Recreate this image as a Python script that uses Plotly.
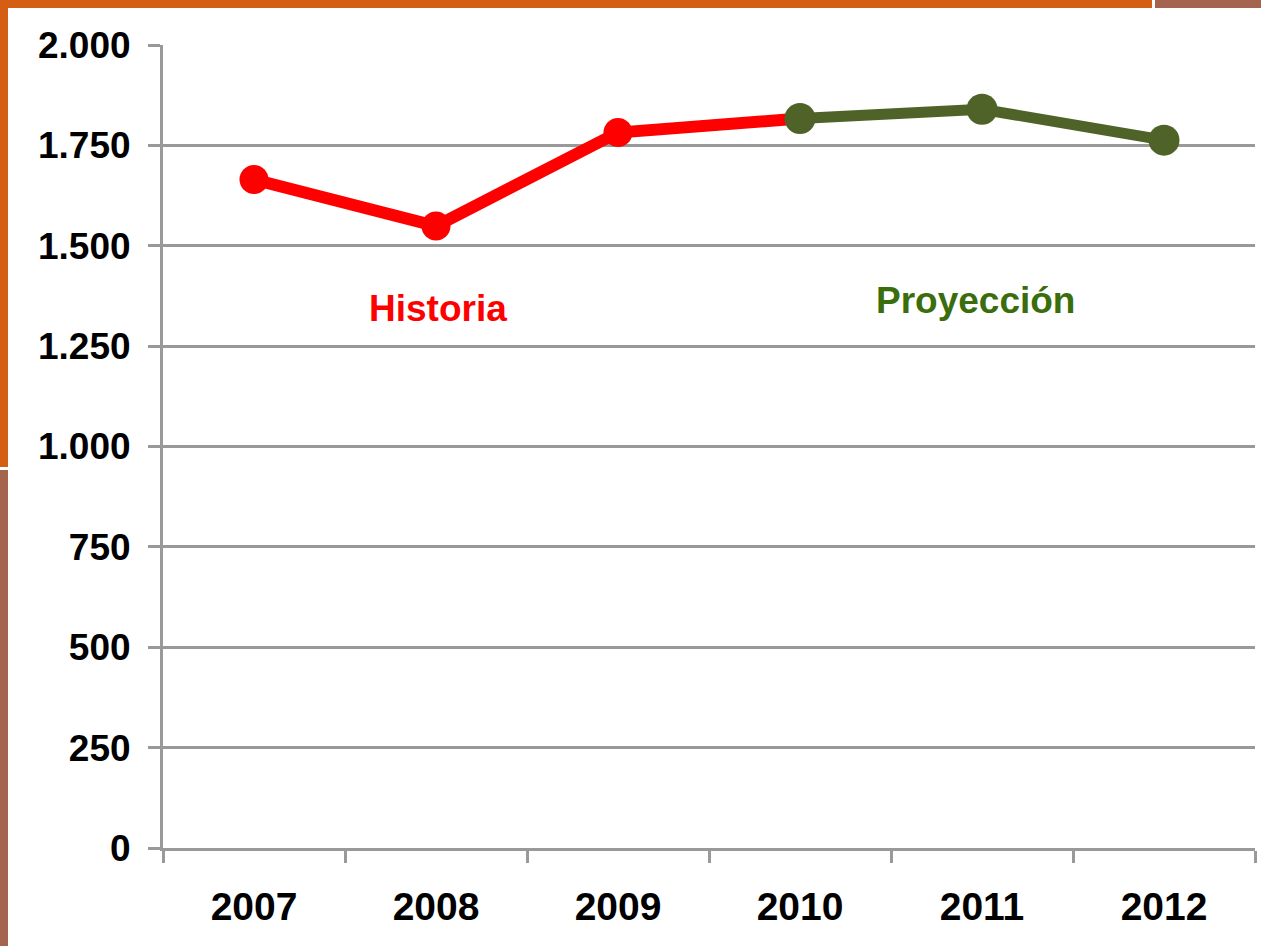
import plotly.graph_objects as go

years = ["2007", "2008", "2009", "2010", "2011", "2012"]
values = [1665, 1549, 1782, 1817, 1840, 1763]
hist_years = years[0:4]
hist_values = values[0:4]
proj_years = years[3:6]
proj_values = values[3:6]
y_ticks = [0, 250, 500, 750, 1000, 1250, 1500, 1750, 2000]
y_tick_labels = ["0", "250", "500", "750", "1.000", "1.250", "1.500", "1.750", "2.000"]

RED = "#FF0000"
GREEN = "#4F6228"
TEXT_GREEN = "#3A6D0C"
ORANGE = "#D35E14"
BROWN = "#A5644E"
GRID = "#999999"
FONT = "Liberation Sans, Arial, sans-serif"

W, H = 1261, 946
L, R, T, B = 163, 1255, 45, 848
pw, ph = R - L, B - T


def px(x):
    return (x - L) / pw


def py(y):
    return (B - y) / ph


fig = go.Figure()
fig.add_trace(go.Scatter(
    x=hist_years, y=hist_values, mode="lines+markers",
    line=dict(color=RED, width=12),
    marker=dict(color=RED, size=29, opacity=1, line=dict(width=0)),
    hoverinfo="skip", showlegend=False, cliponaxis=False,
))
fig.add_trace(go.Scatter(
    x=proj_years, y=proj_values, mode="lines+markers",
    line=dict(color=GREEN, width=11),
    marker=dict(color=GREEN, size=31, opacity=1, line=dict(width=0)),
    hoverinfo="skip", showlegend=False, cliponaxis=False,
))

fig.add_annotation(x=years.index("2008"), y=1250, text="<b>Historia</b>", showarrow=False,
                   font=dict(family=FONT, size=37, color=RED), yshift=38, xshift=2,
                   xref="x", yref="y", xanchor="center", yanchor="middle")
fig.add_annotation(x=years.index("2011"), y=1250, text="<b>Proyección</b>", showarrow=False,
                   font=dict(family=FONT, size=37, color=TEXT_GREEN), yshift=46, xshift=-7,
                   xref="x", yref="y", xanchor="center", yanchor="middle")

shapes = [
    dict(x0=px(0), x1=px(1152), y0=py(0), y1=py(8), color=ORANGE),
    dict(x0=px(1155), x1=px(W), y0=py(0), y1=py(8), color=BROWN),
    dict(x0=px(0), x1=px(8), y0=py(0), y1=py(467), color=ORANGE),
    dict(x0=px(0), x1=px(8), y0=py(470), y1=py(H), color=BROWN),
]
for s in shapes:
    fig.add_shape(type="rect", xref="paper", yref="paper",
                  x0=s["x0"], x1=s["x1"], y0=s["y0"], y1=s["y1"],
                  fillcolor=s["color"], line=dict(width=0), layer="above")

fig.update_layout(
    width=W, height=H,
    margin=dict(l=L, r=W - R, t=T, b=H - B),
    paper_bgcolor="white", plot_bgcolor="white",
    font=dict(family=FONT, size=34, color="black"),
    separators=",.",
    hovermode=False,
)
fig.update_xaxes(
    type="category", categoryorder="array", categoryarray=years,
    range=[-0.5, 5.5], tickson="boundaries",
    ticks="outside", ticklen=12, tickwidth=3, tickcolor=GRID,
    showline=True, linecolor=GRID, linewidth=3,
    showgrid=False, zeroline=False,
    tickfont=dict(family=FONT, size=39, color="black", weight="bold"),
    ticklabelstandoff=22,
)
fig.update_yaxes(
    range=[0, 2000], tickvals=y_ticks, ticktext=y_tick_labels,
    ticks="outside", ticklen=12, tickwidth=3, tickcolor=GRID,
    showline=True, linecolor=GRID, linewidth=3,
    showgrid=True, gridcolor=GRID, gridwidth=3, zeroline=False,
    tickfont=dict(family=FONT, size=37, color="black", weight="bold"),
    ticklabelstandoff=10,
)

fig.write_html("out.html", config={"displayModeBar": False},
               post_script="document.body.style.margin='0';document.body.style.overflow='hidden';")
